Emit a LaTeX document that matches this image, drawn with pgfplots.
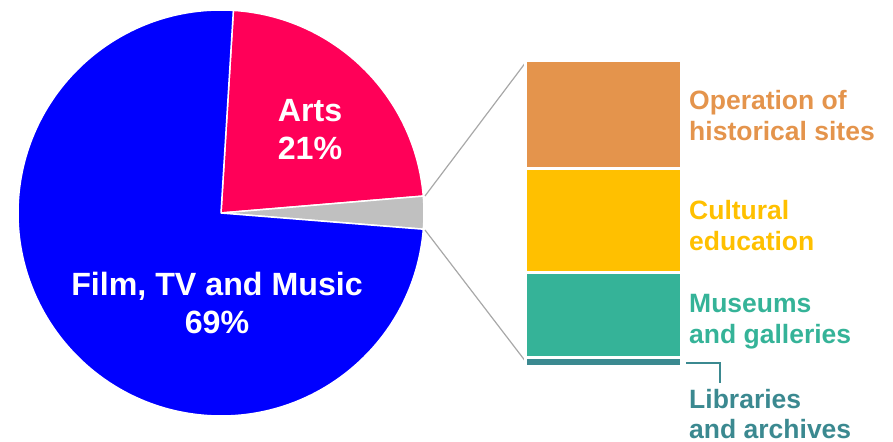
\documentclass[border=0pt]{standalone}
\usepackage{pgfplots}
\pgfplotsset{compat=1.18}
\usepackage{pgfplotstable}
\usepackage{fontspec}
\setmainfont{Liberation Sans}
\definecolor{slice0}{HTML}{FF0058}
\definecolor{slice1}{HTML}{C0C0C0}
\definecolor{slice2}{HTML}{0000FF}
\definecolor{cOp}{HTML}{E4944C}
\definecolor{cCult}{HTML}{FFC000}
\definecolor{cMus}{HTML}{35B398}
\definecolor{cLib}{HTML}{3B8990}
\definecolor{cLine}{HTML}{A8A8A8}
% pie shares (Arts, other culture, Film TV and Music), clockwise from 86.5 deg
\pgfplotstableread{
slice value
0 22.7
1 2.6
2 74.7
}\piedata
% breakdown of the small slice (bottom to top)
\pgfplotstableread{
x lib mus cult op
0.5 2.8 27.9 33.8 35.5
}\bardata
\begin{document}
\begin{tikzpicture}
\begin{axis}[
  name=main, scale only axis, x=1bp, y=1bp, y dir=reverse,
  xmin=0, xmax=893, ymin=0, ymax=442,
  axis lines=none, clip=false,
]
\path (axis cs:0,0) rectangle (axis cs:893,442);
\pgfmathsetmacro{\startang}{86.5}
\pgfplotsforeachungrouped \i in {0,1,2}{%
  \pgfplotstablegetelem{\i}{value}\of\piedata
  \pgfmathsetmacro{\endang}{\startang - \pgfplotsretval*3.6}%
  \edef\temp{\noexpand\fill[fill=slice\i, draw=white, line width=1.5bp, line join=round] (axis cs:221,213) -- ++(\startang:203bp) arc[start angle=\startang, end angle=\endang, radius=203bp] -- cycle;}%
  \temp
  \global\let\startang\endang
}
\addplot[cLine, line width=1.2bp] coordinates {(425,196) (526,62)};
\addplot[cLine, line width=1.2bp] coordinates {(425,230) (526,362)};
\addplot[cLib, line width=1.8bp] coordinates {(686,363.3) (720,363.3) (720,383)};
\coordinate (barbl) at (axis cs:525.5,366.5);
\tikzset{pl/.style={anchor=base, text=white, inner sep=0pt, font=\bfseries\fontsize{32.3}{38}\selectfont}}
\node[pl] at (axis cs:310,122) {Arts};
\node[pl] at (axis cs:310,160) {21\%};
\node[pl] at (axis cs:217,296) {Film, TV and Music};
\node[pl] at (axis cs:217,334) {69\%};
\tikzset{rl/.style={anchor=base west, inner sep=0pt, font=\bfseries\fontsize{26.6}{31}\selectfont}}
\node[rl, text=cOp] at (axis cs:689,110) {Operation of};
\node[rl, text=cOp] at (axis cs:689,141) {historical sites};
\node[rl, text=cCult] at (axis cs:689,220) {Cultural};
\node[rl, text=cCult] at (axis cs:689,251) {education};
\node[rl, text=cMus] at (axis cs:689,313) {Museums};
\node[rl, text=cMus] at (axis cs:689,344) {and galleries};
\node[rl, text=cLib] at (axis cs:689,408) {Libraries};
\node[rl, text=cLib] at (axis cs:689,438.5) {and archives};
\end{axis}
\begin{axis}[
  at={(barbl)}, anchor=south west, scale only axis,
  width=156bp, height=306.3bp, xmin=0, xmax=1, ymin=0, ymax=100,
  axis lines=none, ybar stacked, bar width=156bp, bar shift=0pt,
  enlargelimits=false, clip=false,
]
\addplot[fill=cLib, draw=white, line width=3bp] table[x=x, y=lib] {\bardata};
\addplot[fill=cMus, draw=white, line width=3bp] table[x=x, y=mus] {\bardata};
\addplot[fill=cCult, draw=white, line width=3bp] table[x=x, y=cult] {\bardata};
\addplot[fill=cOp, draw=white, line width=3bp] table[x=x, y=op] {\bardata};
\end{axis}
\end{tikzpicture}
\end{document}
